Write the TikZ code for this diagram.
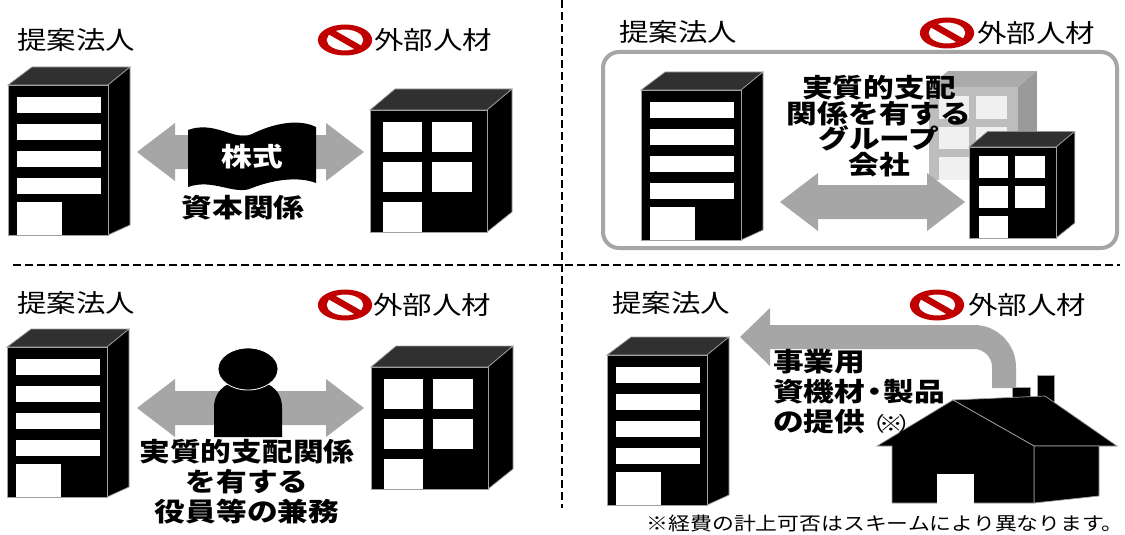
\documentclass[tikz,border=0pt]{standalone}
\usepackage{fontspec}
\newfontfamily\jp[FakeStretch=1.18]{Noto Sans CJK JP}
\definecolor{agray}{HTML}{A6A6A6}
\definecolor{nored}{HTML}{C00000}
\definecolor{topgray}{HTML}{303030}
\definecolor{edge}{HTML}{A0A0A0}
\definecolor{ghostfront}{HTML}{BDBDBD}
\definecolor{ghostside}{HTML}{9A9A9A}
\definecolor{ghosttop}{HTML}{ABABAB}
\definecolor{ghostwin}{HTML}{F0F0F0}
\tikzset{
  bfront/.style={fill=black, draw=edge, line width=0.7pt},
  btop/.style={fill=topgray, draw=edge, line width=0.7pt},
  winfill/.style={fill=white},
  stop/.style={btop}, sside/.style={bfront}, sfront/.style={bfront}, swin/.style={winfill},
  ghost/.style={stop/.style={fill=ghosttop, draw=none}, sside/.style={fill=ghostside, draw=none},
                sfront/.style={fill=ghostfront, draw=none}, swin/.style={fill=ghostwin}},
  normal/.style={},
  blockarrow/.style={fill=agray},
  lab/.style={font=\jp\fontsize{25}{30}\selectfont, inner sep=0pt, anchor=west},
  blab/.style={font=\jp\bfseries\fontsize{26}{30}\selectfont, inner sep=0pt, align=center},
  divider/.style={dash pattern=on 8pt off 4pt, line width=1.6pt},
  groupbox/.style={draw=agray, line width=4pt, rounded corners=16pt},
  housepart/.style={fill=black, draw=edge, line width=0.7pt},
}
\newcommand\TallBldg[2]{%
\begin{scope}[shift={(#1,#2)}]
 \filldraw[btop] (0,0) -- (24,-18) -- (122,-18) -- (100,0) -- cycle;
 \filldraw[bfront] (100,0) -- (122,-18) -- (122,140) -- (100,150) -- cycle;
 \filldraw[bfront] (0,0) rectangle (100,150);
 \foreach \yy in {12,39,66,93} {\fill[winfill] (9,\yy) rectangle (93,\yy+16);}
 \fill[winfill] (9,117) rectangle (54,150);
\end{scope}}
\newcommand\SmallBldg[4]{%
\begin{scope}[shift={(#1,#2)}, scale=#3, #4]
 \filldraw[stop] (0,0) -- (25,-21) -- (142,-21) -- (117,0) -- cycle;
 \filldraw[sside] (117,0) -- (142,-21) -- (142,102) -- (117,122) -- cycle;
 \filldraw[sfront] (0,0) rectangle (117,122);
 \fill[swin] (13,12) rectangle (52,42);
 \fill[swin] (62,12) rectangle (102,42);
 \fill[swin] (13,52) rectangle (52,82);
 \fill[swin] (62,52) rectangle (102,82);
 \fill[swin] (13,92) rectangle (52,122);
\end{scope}}
\newcommand\NoSign[2]{%
\begin{scope}[shift={(#1,#2)}, xscale=1.75]
 \fill[nored, even odd rule] (0,0) circle (15.5) (0,0) circle (10.5);
 \fill[nored] (-6.3,-10) -- (10,6.3) -- (6.3,10) -- (-10,-6.3) -- cycle;
\end{scope}}
\newcommand\DArrow[3]{%
 \fill[blockarrow] (#1,#3) -- ({#1+38},{#3-29}) -- ({#1+38},{#3-17}) -- ({#2-38},{#3-17})
   -- ({#2-38},{#3-29}) -- (#2,#3) -- ({#2-38},{#3+29}) -- ({#2-38},{#3+17})
   -- ({#1+38},{#3+17}) -- ({#1+38},{#3+29}) -- cycle;}
\begin{document}
\begin{tikzpicture}[x=1pt, y=-1pt]
\fill[white] (0,0) rectangle (1125,535);
\useasboundingbox (0,0) rectangle (1125,535);
% dividers
\draw[divider] (562,0) -- (562,508);
\draw[divider] (13,265) -- (1120,265);

% ---------- top left ----------
\node[lab] (tlA) at (17,40) {提案法人};
\NoSign{345}{40}
\node[lab] (tlB) at (374,40) {外部人材};
\TallBldg{8}{85}
\SmallBldg{370}{110}{1}{normal}
\DArrow{137}{364}{152}
\fill[black] (188,130) .. controls (215,120) and (235,142) .. (252,134)
  .. controls (272,124) and (298,118) .. (316,127) -- (316,183)
  .. controls (298,176) and (272,180) .. (252,188)
  .. controls (235,196) and (213,178) .. (188,187) -- cycle;
\node[blab, text=white] (stock) at (252,157) {株式};
\node[blab] (capital) at (243,208) {資本関係};

% ---------- top right ----------
\node[lab] (trA) at (619,32) {提案法人};
\NoSign{947}{33}
\node[lab] (trB) at (977,33) {外部人材};
\draw[groupbox] (603,52) rectangle (1117,248);
\TallBldg{641}{90}
\SmallBldg{929}{87}{0.76}{ghost}
\node[blab, font=\jp\bfseries\fontsize{26}{25.5}\selectfont] (group) at (879,126) {実質的支配\\関係を有する\\グループ\\会社};
\SmallBldg{969}{147}{0.745}{normal}
\DArrow{780}{965}{202}

% ---------- bottom left ----------
\node[lab] (blA) at (17,303) {提案法人};
\NoSign{345}{305}
\node[lab] (blB) at (373,305) {外部人材};
\TallBldg{7}{347}
\SmallBldg{371}{367}{1}{normal}
\DArrow{137}{364}{408}
\fill[black] (214,437) -- (214,408) .. controls (214,388) and (230,380) .. (248,380)
  .. controls (266,380) and (282,388) .. (282,408) -- (282,437) -- cycle;
\filldraw[fill=black, draw=white, line width=0.8pt] (248,369) ellipse (30 and 21);
\node[blab] (officer) at (247,482) {実質的支配関係\\を有する\\役員等の兼務};

% ---------- bottom right ----------
\node[lab] (brA) at (612,303) {提案法人};
\NoSign{937}{305}
\node[lab] (brB) at (968,305) {外部人材};
\TallBldg{607}{355}
\draw[agray, line width=24pt, rounded corners=30pt] (768,337) -- (1004,337) -- (1004,388);
\fill[agray] (740,337) -- (770,308) -- (770,366) -- cycle;
% house
\filldraw[housepart] (1012,387) rectangle (1030,420);
\filldraw[housepart] (1037,375) rectangle (1054,420);
\filldraw[housepart] (953,400) -- (1045,396) -- (1117,446) -- (1034,446) -- cycle;
\filldraw[housepart] (1034,446) -- (1099,446) -- (1099,496) -- (1034,503) -- cycle;
\filldraw[housepart] (877,446) -- (953,400) -- (1034,446) -- (1034,503) -- (892,503) -- (892,446) -- cycle;
\fill[white] (937,474) rectangle (974,504);
\node[blab, align=left, anchor=west] (supply) at (773,392) {事業用\\資機材{\kern-6pt}・{\kern-6pt}製品\\の提供{\mdseries\fontsize{20}{20}\selectfont\kern-4pt（{\kern-5pt}※{\kern-5pt}）}};
\node[font=\jp\fontsize{18.5}{20}\selectfont, anchor=east, inner sep=0pt] (note) at (1124,523) {※経費の計上可否はスキームにより異なります。};
\end{tikzpicture}
\end{document}
